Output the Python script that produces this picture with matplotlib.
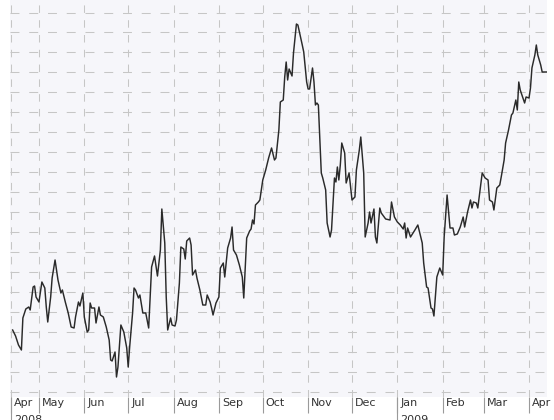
import matplotlib
matplotlib.use('Agg')
import matplotlib.pyplot as plt
import matplotlib.dates as mdates
import matplotlib.transforms as mtransforms
import numpy as np

# series start, then days after it and the level
start = np.datetime64('2008-04-12')
days = [1, 3, 5, 7, 8, 10, 12, 13, 15, 16, 17, 19, 21, 23, 24, 25, 27, 28, 30, 32,
        34, 35, 37, 39, 41, 43, 44, 46, 47, 49, 50, 52, 53, 54, 55, 57, 58, 60, 61, 63,
        65, 67, 68, 69, 71, 72, 73, 75, 77, 79, 80, 81, 83, 84, 85, 87, 88, 90, 92, 94,
        96, 98, 100, 102, 103, 105, 106, 107, 109, 110, 112, 113, 115, 116, 118, 119, 120, 122, 123, 124,
        126, 127, 129, 131, 133, 134, 136, 137, 138, 140, 142, 143, 145, 146, 148, 150, 151, 152, 154, 156,
        158, 159, 161, 163, 164, 165, 166, 167, 169, 170, 172, 174, 176, 178, 180, 181, 183, 184, 186, 187,
        188, 189, 190, 192, 193, 195, 196, 198, 199, 200, 202, 203, 204, 206, 207, 208, 209, 210, 211, 212,
        213, 215, 216, 218, 219, 221, 222, 223, 224, 225, 226, 228, 229, 231, 232, 233, 235, 236, 238, 239,
        241, 242, 244, 245, 246, 248, 249, 250, 252, 253, 256, 259, 260, 262, 264, 266, 268, 269, 270, 271,
        273, 276, 278, 281, 282, 284, 285, 287, 288, 289, 291, 293, 295, 296, 298, 300, 302, 303, 305, 307,
        309, 310, 312, 314, 315, 316, 318, 319, 321, 322, 324, 326, 327, 329, 330, 332, 334, 335, 337, 338,
        340, 342, 343, 345, 346, 347, 348, 351, 352, 354, 355, 356, 358, 359, 360, 362, 363, 366]
level = [62, 56, 47, 42, 74, 83, 85, 82, 105, 106, 95, 90, 110, 104, 85, 70, 95, 114, 132, 112,
         99, 102, 90, 79, 65, 64, 75, 90, 86, 99, 75, 60, 62, 89, 84, 84, 69, 85, 77, 75,
         65, 52, 32, 31, 40, 15, 25, 67, 60, 44, 25, 45, 79, 104, 102, 94, 97, 79, 79, 64,
         125, 136, 116, 142, 183, 149, 95, 62, 74, 67, 66, 72, 109, 145, 143, 133, 151, 154, 147, 117,
         122, 114, 102, 87, 87, 97, 90, 84, 77, 89, 95, 124, 129, 115, 144, 154, 165, 142, 137, 127,
         115, 94, 154, 161, 163, 172, 168, 187, 190, 192, 212, 222, 234, 244, 232, 234, 262, 290, 292, 315,
         330, 312, 323, 316, 339, 368, 367, 354, 347, 340, 310, 303, 303, 324, 310, 287, 289, 287, 252, 219,
         214, 202, 169, 155, 162, 214, 210, 225, 212, 227, 249, 239, 209, 219, 205, 192, 195, 222, 242, 255,
         219, 155, 169, 180, 169, 183, 155, 149, 184, 179, 173, 172, 190, 175, 170, 167, 163, 169, 154, 164,
         155, 162, 167, 149, 129, 105, 104, 84, 83, 76, 115, 124, 117, 155, 197, 164, 164, 157, 158, 165,
         175, 165, 180, 192, 184, 190, 189, 184, 207, 219, 214, 212, 192, 190, 182, 204, 207, 215, 232, 249,
         262, 277, 279, 292, 282, 310, 302, 289, 295, 294, 304, 324, 337, 347, 337, 327, 320, 320]

month_starts = ['2008-05-01', '2008-06-01', '2008-07-01', '2008-08-01', '2008-09-01',
                '2008-10-01', '2008-11-01', '2008-12-01', '2009-01-01', '2009-02-01',
                '2009-03-01', '2009-04-01']
year_starts = ['2009-01-01']

dates = start + np.array(days).astype('timedelta64[D]')
t0 = mdates.date2num(start)

fig = plt.figure(figsize=(5.54, 4.2), dpi=100)
ax = fig.add_axes([10 / 554, 23 / 420, 537 / 554, 397 / 420])
ax.set_facecolor('#f6f6fa')

ax.plot(dates, level, color='#2a2a2a', lw=1.05, zorder=3)

ax.set_xlim(t0 - 0.8, t0 + 366.3)
ax.set_ylim(-5, 392)

# month separators / labels, years on a second row
ax.xaxis.remove_overlapping_locs = False
major = [t0] + [mdates.date2num(np.datetime64(m)) for m in month_starts]
minor = [t0] + [mdates.date2num(np.datetime64(y)) for y in year_starts]
ax.set_xticks(major)
ax.set_xticks(minor, minor=True)
ax.xaxis.set_major_formatter(mdates.DateFormatter('%b'))
ax.xaxis.set_minor_formatter(mdates.DateFormatter('%Y'))
ax.tick_params(axis='x', which='major', direction='out', length=11.5, width=0.8,
               color='#9a9a9a', pad=-10.5, labelsize=8, labelcolor='#333333')
ax.tick_params(axis='x', which='minor', direction='out', length=19, width=0.8,
               color='#9a9a9a', pad=-5.8, labelsize=8, labelcolor='#333333')
ax.set_yticks(np.arange(379.5, -5, -19.95))
ax.tick_params(axis='y', left=False, labelleft=False)

shift = mtransforms.ScaledTranslation(3 / 100, 0, fig.dpi_scale_trans)
for lab in ax.get_xticklabels() + ax.get_xticklabels(minor=True):
    lab.set_ha('left')
    lab.set_transform(lab.get_transform() + shift)

ax.grid(axis='x', which='major', color='#c6c6c6', lw=0.75, linestyle=(0, (7.2, 7.0)))
ax.grid(axis='y', which='major', color='#c6c6c6', lw=0.75, linestyle=(0, (8.6, 9.4)))
ax.set_axisbelow(True)

for s in ax.spines.values():
    s.set_visible(False)

fig.savefig('out.png', dpi=100, facecolor='white')
